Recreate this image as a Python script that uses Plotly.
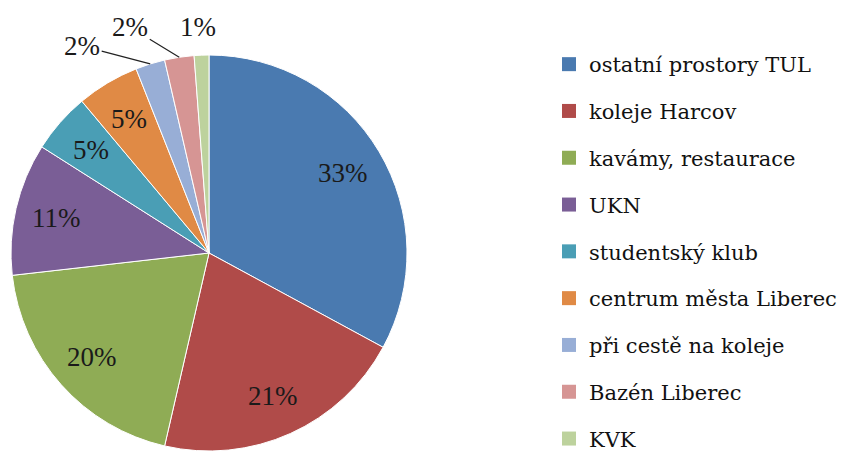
import math
import plotly.graph_objects as go

categories = ["ostatní prostory TUL", "koleje Harcov", "kavámy, restaurace", "UKN",
              "studentský klub", "centrum města Liberec", "při cestě na koleje",
              "Bazén Liberec", "KVK"]
values = [32.9, 20.7, 19.6, 10.8, 4.9, 5.1, 2.4, 2.4, 1.2]
colors = ["#4A7AB0", "#B04B49", "#8FAC55", "#7A5E96", "#4A9EB5",
          "#E08A45", "#98AED6", "#D69594", "#BDD29D"]
# small slices get external labels: (offset x px, offset y px, leader line?)
external = {6: (-68, -18, True), 7: (-49, -30, True), 8: (-4, -28, False)}

FONT = "Liberation Serif"
LEGEND_FONT = "DejaVu Serif"
LABEL_RADIUS = 0.79  # inside labels, fraction of pie radius
W, H = 850, 452
DOM_X = [3 / W, 399 / W]
DOM_Y = [1 - 443 / H, 1 - 47 / H]

fig = go.Figure()
fig.add_trace(go.Pie(
    labels=categories, values=values, sort=False, direction="clockwise",
    rotation=0, marker=dict(colors=colors, line=dict(color="white", width=1)),
    textinfo="none", showlegend=False, automargin=False,
    domain=dict(x=DOM_X, y=DOM_Y),
))
for c, col in zip(categories, colors):
    fig.add_trace(go.Scatter(x=[None], y=[None], mode="markers", name=c,
                             legendgroup=c,
                             marker=dict(symbol="square", size=14, color=col)))

# percentage labels, placed along each slice's mid-angle
total = sum(values)
cx = (DOM_X[0] + DOM_X[1]) / 2 * W
cy = (DOM_Y[0] + DOM_Y[1]) / 2 * H
r = min((DOM_X[1] - DOM_X[0]) * W, (DOM_Y[1] - DOM_Y[0]) * H) / 2
label_font = dict(family=FONT, size=27, color="#1a1a1a")
cum = 0.0
annotations = []
for i, v in enumerate(values):
    mid = (cum + v / 2) / total * 2 * math.pi
    cum += v
    text = f"{round(v / total * 100)}%"
    if i not in external:
        px = (cx + LABEL_RADIUS * r * math.sin(mid)) / W
        py = (cy + LABEL_RADIUS * r * math.cos(mid)) / H
        annotations.append(dict(x=px, y=py, xref="paper", yref="paper", text=text,
                                showarrow=False, xanchor="center", yanchor="middle",
                                font=label_font))
        continue
    ox, oy, lead = external[i]
    px = (cx + r * math.sin(mid)) / W
    py = (cy + r * math.cos(mid)) / H
    if lead:
        annotations.append(dict(x=px, y=py, xref="paper", yref="paper", text=text,
                                showarrow=True, arrowhead=0, arrowwidth=1.2,
                                arrowcolor="#222", ax=ox, ay=oy, standoff=0,
                                font=label_font))
    else:
        annotations.append(dict(x=px, y=py, xref="paper", yref="paper", text=text,
                                showarrow=False, xanchor="center", yanchor="middle",
                                xshift=ox, yshift=-oy, font=label_font))

fig.update_layout(
    width=W, height=H,
    margin=dict(l=0, r=0, t=0, b=0, autoexpand=False),
    paper_bgcolor="white", plot_bgcolor="white",
    font=dict(family=FONT, color="#111"),
    xaxis=dict(visible=False), yaxis=dict(visible=False),
    annotations=annotations,
    legend=dict(x=541 / W, y=1 - 36 / H, xanchor="left", yanchor="top",
                font=dict(family=LEGEND_FONT, size=21, color="#111"),
                tracegroupgap=16.5, itemsizing="trace", itemwidth=30),
)
fig.write_html("out.html")
